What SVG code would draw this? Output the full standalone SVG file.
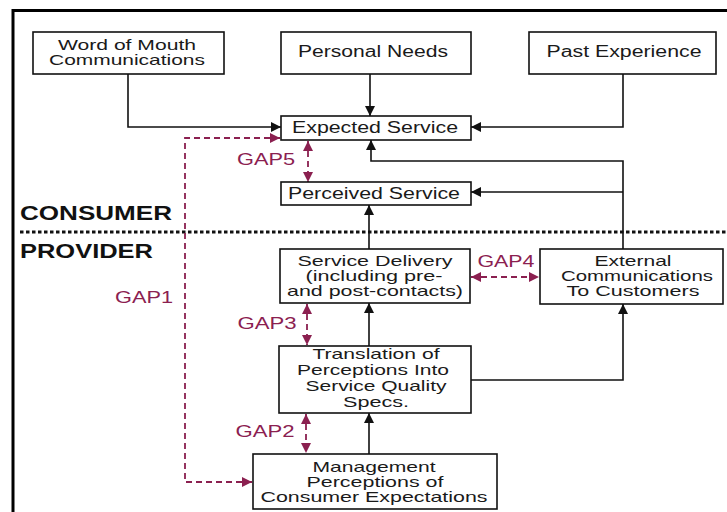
<svg xmlns="http://www.w3.org/2000/svg" width="727" height="512" viewBox="0 0 727 512">
<style>
.box{fill:#fff;stroke:#111;stroke-width:1.6}
.t{font-family:"Liberation Sans",Arial,sans-serif;font-size:16px;fill:#1a1a1a;text-anchor:middle}
.s{font-size:14.5px}
.g{font-family:"Liberation Sans",Arial,sans-serif;font-size:16px;fill:#8b2050;text-anchor:middle}
.h{font-family:"Liberation Sans",Arial,sans-serif;font-size:20px;font-weight:bold;fill:#111}
.ln{fill:none;stroke:#111;stroke-width:1.6;marker-end:url(#ab)}
.gp{fill:none;stroke:#8b2050;stroke-width:1.8;stroke-dasharray:6 4;marker-start:url(#am);marker-end:url(#am)}
</style>
<defs>
<marker id="ab" markerUnits="userSpaceOnUse" markerWidth="11" markerHeight="11" refX="10" refY="5" orient="auto"><path d="M0,0 L10,5 L0,10 z" fill="#111"/></marker>
<marker id="am" markerUnits="userSpaceOnUse" markerWidth="11" markerHeight="11" refX="10" refY="5" orient="auto-start-reverse"><path d="M0,0 L10,5 L0,10 z" fill="#8b2050"/></marker>
</defs>
<rect width="727" height="512" fill="#fff"/>
<path d="M13,512 V10.5 H727" fill="none" stroke="#000" stroke-width="3"/>
<line x1="20" y1="232" x2="727" y2="232" stroke="#111" stroke-width="3" stroke-dasharray="3.5 2.5"/>
<text class="h" x="20" y="220" textLength="152" lengthAdjust="spacingAndGlyphs">CONSUMER</text>
<text class="h" x="20" y="258" textLength="133" lengthAdjust="spacingAndGlyphs">PROVIDER</text>

<g id="connectors">
<path class="ln" d="M128,74 V127 H281"/>
<path class="ln" d="M370,74 V116"/>
<path class="ln" d="M623,74 V127 H471"/>
<path class="ln" d="M623,249 V161 H371 V140"/>
<path class="ln" d="M623,192 H471"/>
<path class="ln" d="M369,249 V205"/>
<path class="ln" d="M369,346 V303"/>
<path class="ln" d="M369,454 V413"/>
<path class="ln" d="M471,380 H623 V304"/>
<path class="gp" d="M308,141 V182"/>
<path class="gp" d="M307,304 V345"/>
<path class="gp" d="M306,414 V453"/>
<path class="gp" d="M471,277 H539"/>
<path class="gp" d="M252,482 H185 V138 H280"/>
</g>

<g id="word-of-mouth"><rect class="box" x="33" y="32" width="191" height="42"/>
<text class="t s" x="127" y="50" textLength="138" lengthAdjust="spacingAndGlyphs">Word of Mouth</text>
<text class="t s" x="127" y="65" textLength="156" lengthAdjust="spacingAndGlyphs">Communications</text></g>
<g id="personal-needs"><rect class="box" x="281" y="32" width="190" height="42"/>
<text class="t" x="373" y="57" textLength="150" lengthAdjust="spacingAndGlyphs">Personal Needs</text></g>
<g id="past-experience"><rect class="box" x="529" y="32" width="187" height="42"/>
<text class="t" x="624" y="57" textLength="155" lengthAdjust="spacingAndGlyphs">Past Experience</text></g>
<g id="expected-service"><rect class="box" x="281" y="116" width="190" height="24"/>
<text class="t" x="375" y="133" textLength="166" lengthAdjust="spacingAndGlyphs">Expected Service</text></g>
<g id="perceived-service"><rect class="box" x="281" y="182" width="190" height="23"/>
<text class="t" x="374" y="199" textLength="172" lengthAdjust="spacingAndGlyphs">Perceived Service</text></g>
<g id="service-delivery"><rect class="box" x="280" y="249" width="190" height="54"/>
<text class="t s" x="375" y="266" textLength="155" lengthAdjust="spacingAndGlyphs">Service Delivery</text>
<text class="t s" x="374" y="281" textLength="137" lengthAdjust="spacingAndGlyphs">(including pre-</text>
<text class="t s" x="375" y="296" textLength="176" lengthAdjust="spacingAndGlyphs">and post-contacts)</text></g>
<g id="external-communications"><rect class="box" x="540" y="249" width="183" height="55"/>
<text class="t s" x="633" y="266" textLength="77" lengthAdjust="spacingAndGlyphs">External</text>
<text class="t s" x="637" y="281" textLength="152" lengthAdjust="spacingAndGlyphs">Communications</text>
<text class="t s" x="633" y="296" textLength="133" lengthAdjust="spacingAndGlyphs">To Customers</text></g>
<g id="translation"><rect class="box" x="279" y="346" width="192" height="67"/>
<text class="t s" x="376" y="359" textLength="127" lengthAdjust="spacingAndGlyphs">Translation of</text>
<text class="t s" x="373" y="375" textLength="152" lengthAdjust="spacingAndGlyphs">Perceptions Into</text>
<text class="t s" x="376" y="391" textLength="141" lengthAdjust="spacingAndGlyphs">Service Quality</text>
<text class="t s" x="376" y="407" textLength="66" lengthAdjust="spacingAndGlyphs">Specs.</text></g>
<g id="management"><rect class="box" x="253" y="454" width="244" height="55"/>
<text class="t s" x="374" y="472" textLength="123" lengthAdjust="spacingAndGlyphs">Management</text>
<text class="t s" x="375" y="487" textLength="137" lengthAdjust="spacingAndGlyphs">Perceptions of</text>
<text class="t s" x="374" y="502" textLength="227" lengthAdjust="spacingAndGlyphs">Consumer Expectations</text></g>

<g id="gap-labels">
<text class="g" x="266" y="165" textLength="58" lengthAdjust="spacingAndGlyphs">GAP5</text>
<text class="g" x="267" y="329" textLength="59" lengthAdjust="spacingAndGlyphs">GAP3</text>
<text class="g" x="265" y="437" textLength="59" lengthAdjust="spacingAndGlyphs">GAP2</text>
<text class="g" x="144" y="303" textLength="58" lengthAdjust="spacingAndGlyphs">GAP1</text>
<text class="g" x="506" y="267" textLength="57" lengthAdjust="spacingAndGlyphs">GAP4</text>
</g>
</svg>
